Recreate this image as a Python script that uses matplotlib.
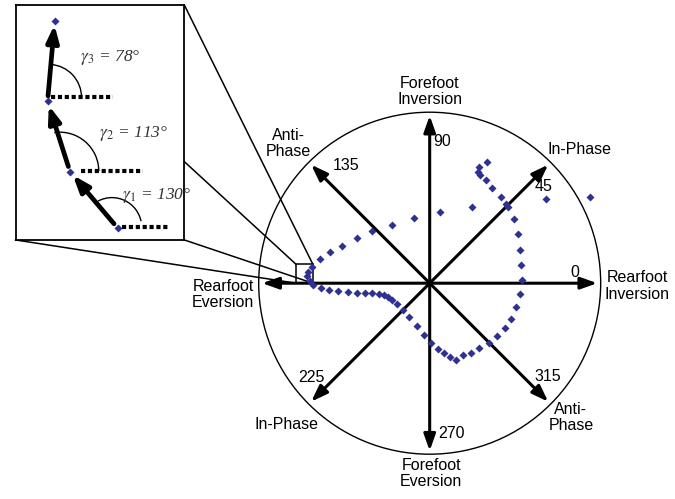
import numpy as np
import matplotlib.pyplot as plt
from matplotlib.patches import Circle, Arc, Rectangle

plt.rcParams['font.family'] = ['Liberation Sans', 'DejaVu Sans']
plt.rcParams['mathtext.fontset'] = 'stix'

# coupling angle points, in units of the circle radius (centre = 0,0)
# branch that runs from rearfoot eversion round the bottom and up the right side
lower_x = [-0.716, -0.699, -0.681, -0.635, -0.588, -0.536, -0.478, -0.426, -0.380, -0.339,
           -0.299, -0.270, -0.243, -0.220, -0.192, -0.158, -0.119, -0.077, -0.032, 0.007,
           0.048, 0.084, 0.119, 0.155, 0.194, 0.241, 0.289, 0.345, 0.391, 0.438,
           0.474, 0.503, 0.526, 0.538, 0.536, 0.530, 0.515, 0.492, 0.457, 0.449,
           0.416, 0.366, 0.328, 0.297, 0.281, 0.291, 0.335]
lower_y = [0.043, 0.014, -0.009, -0.028, -0.038, -0.046, -0.052, -0.056, -0.056, -0.058,
           -0.064, -0.070, -0.083, -0.099, -0.121, -0.154, -0.199, -0.251, -0.301, -0.348,
           -0.383, -0.409, -0.431, -0.448, -0.421, -0.406, -0.379, -0.350, -0.311, -0.264,
           -0.209, -0.141, -0.066, 0.016, 0.107, 0.197, 0.288, 0.373, 0.443, 0.464,
           0.507, 0.559, 0.601, 0.632, 0.652, 0.681, 0.710]
# branch that climbs to the upper right
upper_x = [-0.710, -0.687, -0.641, -0.584, -0.511, -0.426, -0.335, -0.223, -0.094, 0.061,
           0.245, 0.683, 0.936]
upper_y = [0.068, 0.097, 0.139, 0.180, 0.220, 0.263, 0.304, 0.342, 0.383, 0.414,
           0.445, 0.491, 0.507]

arrow_angles = [0, 45, 90, 135, 180, 225, 270, 315]
angle_labels = ['0', '45', '90', '135', '', '225', '270', '315']
label_pos = [(0.849, 0.062), (0.664, 0.566), (0.020, 0.827), (-0.490, 0.687), (0, 0),
             (-0.693, -0.552), (0.130, -0.877), (0.693, -0.547)]

region_labels = ['Rearfoot\nInversion', 'In-Phase', 'Forefoot\nInversion', 'Anti-\nPhase',
                 'Rearfoot\nEversion', 'In-Phase', 'Forefoot\nEversion', 'Anti-\nPhase']
region_pos = [(1.212, -0.016), (0.878, 0.781), (0.0, 1.122), (-0.826, 0.816),
              (-1.209, -0.066), (-0.838, -0.825), (0.009, -1.115), (0.826, -0.784)]

# zoomed view (inset coords): four consecutive points and their coupling angles
zoom_x = [103.0, 55.0, 32.3, 39.6]
zoom_y = [12.0, 68.7, 139.7, 221.3]
gammas = [130, 113, 78]

blue = '#2e3192'

fig = plt.figure(figsize=(6.75, 4.99), dpi=100)
ax = fig.add_axes([0, 0, 1, 1])
ax.set_xlim(-2.4957, 1.4174)
ax.set_ylim(-1.2620, 1.6562)
ax.set_aspect('equal')
ax.axis('off')

ax.add_patch(Circle((0, 0), 1, fill=False, lw=1.0, color='black'))

for ang in arrow_angles:
    t = np.radians(ang)
    ax.annotate('', xy=(0.98 * np.cos(t), 0.98 * np.sin(t)), xytext=(0, 0),
                arrowprops=dict(arrowstyle='-|>,head_length=0.9,head_width=0.32',
                                lw=2.2, color='black', shrinkA=0, shrinkB=0,
                                mutation_scale=11))

for lab, (x, y) in zip(angle_labels, label_pos):
    if lab == '90':
        ax.text(x, y, lab, ha='left', va='center', fontsize=11.5)
    elif lab:
        ax.text(x, y, lab, ha='center', va='center', fontsize=11.5)

for lab, (x, y) in zip(region_labels, region_pos):
    ax.text(x, y, lab, ha='center', va='center', fontsize=11.5, linespacing=1.1)

ax.plot(lower_x, lower_y, 'D', color=blue, ms=4.4, mec='none', zorder=3)
ax.plot(upper_x, upper_y, 'D', color=blue, ms=4.4, mec='none', zorder=3)

# small square marking the zoomed region + lines to the inset box
ax.add_patch(Rectangle((-0.781, 0.0), 0.098, 0.110, fill=False, lw=1.1, color='black'))
box_l, box_r, box_b, box_t = -2.422, -1.435, 0.253, 1.627
ax.plot([box_r, -0.683], [box_t, 0.110], color='black', lw=1.1)
ax.plot([box_r, -0.781], [0.711, 0.110], color='black', lw=1.1)
ax.plot([box_r, -0.683], [box_b, 0.0], color='black', lw=1.1)
ax.plot([box_l, -0.781], [box_b, 0.0], color='black', lw=1.1)

axin = ax.inset_axes([box_l, box_b, box_r - box_l, box_t - box_b], transform=ax.transData)
axin.set_xlim(0, 170.3)
axin.set_ylim(0, 237)
axin.set_xticks([])
axin.set_yticks([])
for s in axin.spines.values():
    s.set_linewidth(1.3)

for i in range(3):
    axin.annotate('', xy=(zoom_x[i + 1], zoom_y[i + 1]), xytext=(zoom_x[i], zoom_y[i]),
                  arrowprops=dict(arrowstyle='-|>,head_length=0.9,head_width=0.33',
                                  lw=3.4, color='black', shrinkA=4, shrinkB=3,
                                  mutation_scale=11))

axin.plot(zoom_x, zoom_y, 'D', color=blue, ms=4.4, mec='none', zorder=3)

# dotted reference lines (horizontal) from each point
dot_lines = [(107.3, 154.0, 12.7), (65.6, 129.0, 69.3), (35.6, 98.3, 143.7)]
for x0, x1, y in dot_lines:
    axin.plot([x0, x1], [y, y], color='black', lw=3.0, linestyle=(0, (1, 0.65)),
              dash_capstyle='butt')

arcs = [((97.3, 12.7), 60, 12, 118), ((44.6, 69.3), 78.8, 0, 98), ((33.2, 143.7), 66.8, 0, 86)]
for c, d, t1, t2 in arcs:
    axin.add_patch(Arc(c, d, d, theta1=t1, theta2=t2, lw=1.0, color='black'))

gam_pos = [(107.3, 45), (84.3, 107), (65.3, 184)]
for k, (g, (x, y)) in enumerate(zip(gammas, gam_pos)):
    axin.text(x, y, r'$\gamma_{%d}$ = %d°' % (k + 1, g), ha='left', va='center',
              fontsize=12.5, family='Liberation Serif', style='italic', color='#333333',
              clip_on=False)

fig.savefig('out.png', dpi=100)
